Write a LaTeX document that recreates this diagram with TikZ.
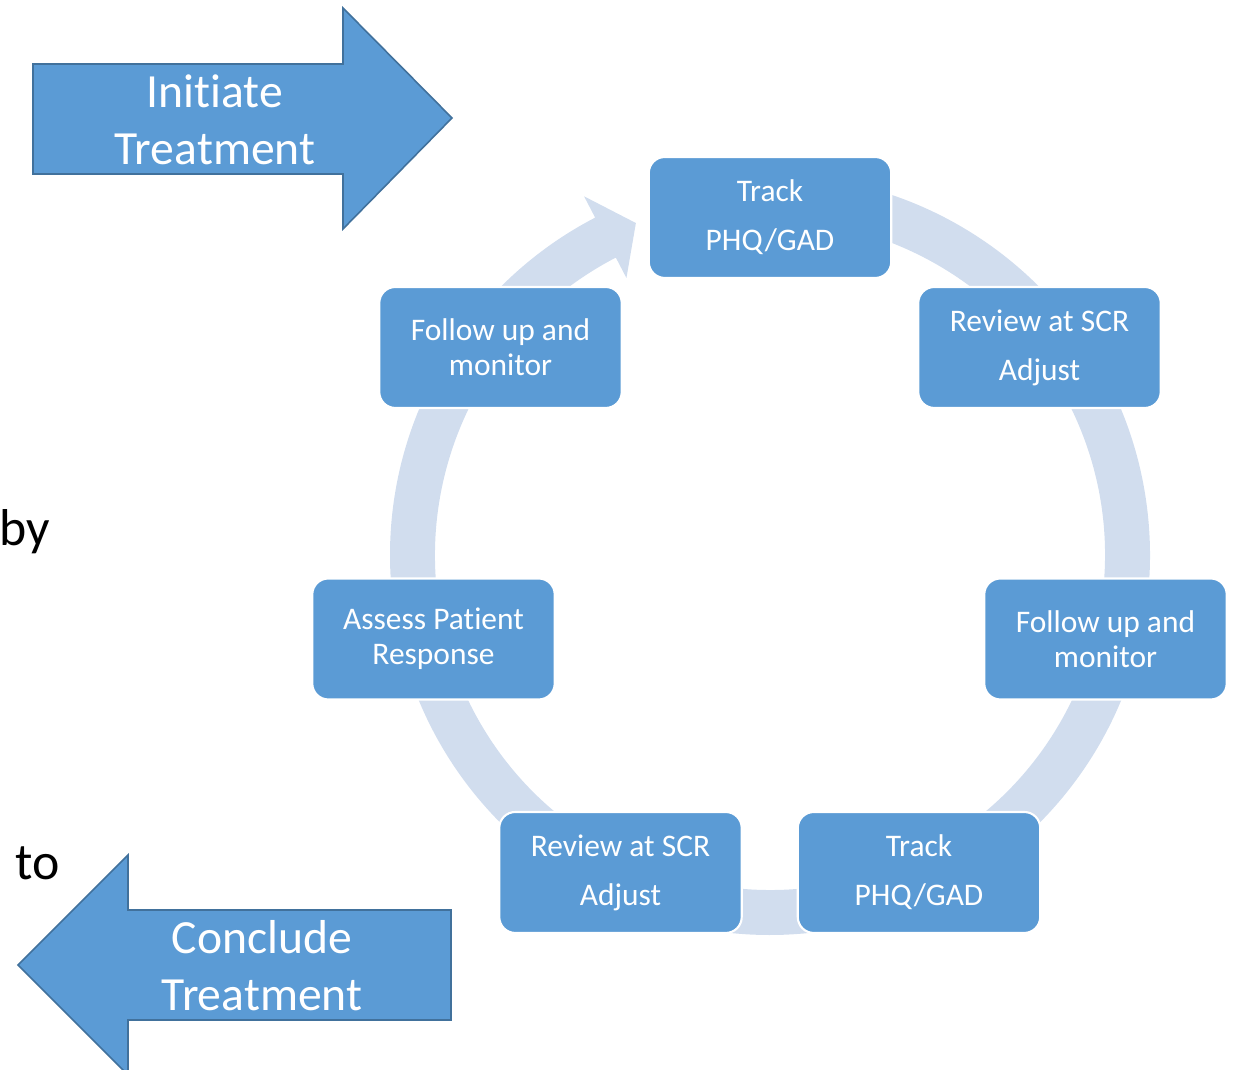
\documentclass[tikz,border=0pt]{standalone}
\usepackage{fontspec}
\setmainfont[Ligatures={NoCommon}]{Carlito}
\definecolor{boxblue}{RGB}{91,155,213}
\definecolor{arrowborder}{RGB}{65,113,156}
\definecolor{ringblue}{RGB}{209,221,238}
\begin{document}
\begin{tikzpicture}[x=0.02cm,y=0.02cm,
  box/.style={draw=white, line width=1.2pt, fill=boxblue, rounded corners=0.32cm,
    minimum width=4.85cm, minimum height=2.42cm, text=white, align=center,
    font=\fontsize{17.9}{19.9}\selectfont, inner sep=0pt},
  wide/.style={font=\fontsize{17.9}{27.8}\selectfont},
  bigarrow/.style={fill=boxblue, draw=arrowborder, line width=0.9pt},
  bigtext/.style={text=white, align=center, font=\fontsize{27.1}{32.3}\selectfont},
  side/.style={text=black, font=\fontsize{29.5}{35}\selectfont, inner sep=0pt}]
\useasboundingbox (0,0) rectangle (1235,1070);
% ring with arrow head
\begin{scope}[shift={(770,515)}]
\fill[ringblue] (95:380) arc[start angle=95, end angle=-242.6, radius=380]
  -- (117.4:404) -- (112:358) -- (117.4:312) -- (117.4:335)
  arc[start angle=-242.6, end angle=95, radius=335] -- cycle;
\end{scope}
% boxes
\node[box, wide] (t1) at (770,852.5) {Track\\PHQ/GAD};
\node[box, wide] (r1) at (1039.5,722.5) {Review at SCR\\Adjust};
\node[box] (f1) at (1105.5,431) {Follow up and\\monitor};
\node[box, wide] (t2) at (919,197.5) {Track\\PHQ/GAD};
\node[box, wide] (r2) at (620.5,197.5) {Review at SCR\\Adjust};
\node[box] (a1) at (433.5,431) {Assess Patient\\Response};
\node[box] (f2) at (500.5,722.5) {Follow up and\\monitor};
% big arrows
\draw[bigarrow] (33,1006) -- (343,1006) -- (343,1062) -- (452,952) -- (343,841)
  -- (343,896) -- (33,896) -- cycle;
\node[bigtext] (init) at (215,950) {Initiate\\Treatment};
\draw[bigarrow] (18,105) -- (128,215) -- (128,160) -- (451,160) -- (451,50)
  -- (128,50) -- (128,-5) -- cycle;
\node[bigtext] (concl) at (262,104) {Conclude\\Treatment};
% side texts
\node[side, anchor=base west] (by) at (-1,524) {by};
\node[side, anchor=base west] (to) at (15,190) {to};
\end{tikzpicture}
\end{document}
